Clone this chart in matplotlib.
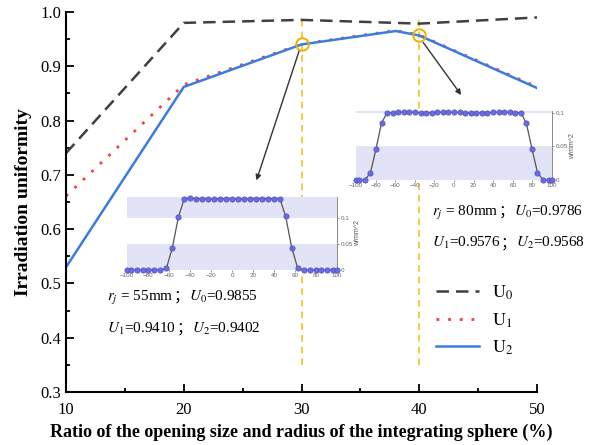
import numpy as np
import matplotlib.pyplot as plt
from matplotlib.offsetbox import TextArea, HPacker, VPacker, AnnotationBbox
from matplotlib.ticker import MultipleLocator

plt.rcParams['font.family'] = ['Liberation Serif', 'Noto Sans CJK SC']
plt.rcParams['mathtext.fontset'] = 'stix'

# uniformity vs opening ratio
ratio = [10, 20, 30, 38, 40, 50]
ratio_u0 = [10, 20, 30, 40, 50]
u0 = [0.740, 0.980, 0.9855, 0.9786, 0.990]
u1 = [0.661, 0.866, 0.9410, 0.966, 0.9576, 0.862]
u2 = [0.530, 0.862, 0.9402, 0.965, 0.9568, 0.860]
radius = [55, 80]          # r_j for the two marked cases (x = 30 and x = 40)

# irradiance profiles across the target plane (mm, W/mm^2)
pos = [-100, -96.6, -90.9, -85.2, -79.6, -73.9, -68.2, -62.5, -56.8, -51.1,
       -45.5, -39.8, -34.1, -28.4, -22.7, -17.0, -11.4, -5.7, 0.0, 5.7,
       11.4, 17.0, 22.7, 28.4, 34.1, 39.8, 45.5, 51.1, 56.8, 62.5,
       68.2, 73.9, 79.6, 85.2, 90.9, 96.6, 100]
prof_55 = [0, 0, 0, 0, 0, 0, 0, 0.003, 0.043, 0.101,
           0.137, 0.1375, 0.137, 0.1365, 0.136, 0.136, 0.1365, 0.137, 0.137, 0.1365,
           0.136, 0.1365, 0.137, 0.137, 0.137, 0.137, 0.137, 0.103, 0.043, 0.004,
           0, 0, 0, 0, 0, 0, 0]
prof_80 = [0, 0, 0, 0.011, 0.046, 0.085, 0.1, 0.1, 0.1005, 0.101,
           0.101, 0.1005, 0.1, 0.0995, 0.0995, 0.1005, 0.101, 0.101, 0.1005, 0.1005,
           0.1, 0.0995, 0.099, 0.0995, 0.1, 0.1005, 0.101, 0.1015, 0.1005, 0.1,
           0.1, 0.084, 0.046, 0.011, 0, 0, 0]

fig = plt.figure(figsize=(6, 4.45), dpi=100)
ax = fig.add_axes([0.11, 0.119, 0.785, 0.854])

ax.plot(ratio_u0, u0, color='#404040', lw=1.8, ls=(0, (5, 2.8)), label=r'$\mathrm{U_0}$')
ax.plot(ratio, u1, color='#ff3b3b', lw=2, ls=(0, (1, 3.2)), label=r'$\mathrm{U_1}$')
ax.plot(ratio, u2, color='#3a7de0', lw=1.8, label=r'$\mathrm{U_2}$')

# highlight the two cases shown in the insets
marked = [2, 4]
for i in marked:
    ax.axvline(ratio[i], ymin=0.072, ymax=0.985, color='#f5c020', lw=1.2, ls=(0, (4, 3)), zorder=1)
    ax.plot(ratio[i], u2[i], 'o', ms=9, mfc='none', mec='#f0b000', mew=1.4, zorder=5)

ax.annotate('', xy=(26.1, 0.685), xytext=(29.9, 0.935),
            arrowprops=dict(arrowstyle='-|>', color='#333333', lw=1, mutation_scale=8))
ax.annotate('', xy=(43.7, 0.843), xytext=(40.2, 0.948),
            arrowprops=dict(arrowstyle='-|>', color='#333333', lw=1, mutation_scale=8))

ax.set_xlim(10, 50)
ax.set_ylim(0.3, 1.0)
ax.xaxis.set_major_locator(MultipleLocator(10))
ax.xaxis.set_minor_locator(MultipleLocator(5))
ax.yaxis.set_major_locator(MultipleLocator(0.1))
ax.yaxis.set_minor_locator(MultipleLocator(0.05))
ax.yaxis.set_major_formatter(lambda v, p: f'{v:.1f}')
ax.tick_params(which='both', direction='in', labelsize=12, width=1.3)
ax.tick_params(which='major', length=6)
ax.tick_params(which='minor', length=3)
ax.tick_params(axis='x', pad=7)
for s in ['top', 'right']:
    ax.spines[s].set_visible(False)
for s in ['left', 'bottom']:
    ax.spines[s].set_linewidth(1.5)

ax.set_xlabel('Ratio of the opening size and radius of the integrating sphere (%)',
              fontsize=13, fontweight='bold', labelpad=4)
ax.set_ylabel('Irradiation uniformity', fontsize=14, fontweight='bold', labelpad=6)

ax.legend(loc='upper left', bbox_to_anchor=(0.785, 0.285), frameon=False, fontsize=13,
          handlelength=2.4, handletextpad=0.7, labelspacing=0.5, borderaxespad=0, borderpad=0)


def stats_box(r, a, b, c):
    tp = dict(fontsize=11, family='Liberation Serif')
    cp = dict(fontsize=11, family='Noto Sans CJK SC')
    line1 = HPacker(children=[TextArea(f'$r_j$ = {r}mm ', textprops=tp),
                              TextArea('；', textprops=cp),
                              TextArea(f'$U_0$={a:.4f}', textprops=tp)],
                    sep=0, pad=0, align='baseline')
    line2 = HPacker(children=[TextArea(f'$U_1$={b:.4f}', textprops=tp),
                              TextArea('；', textprops=cp),
                              TextArea(f'$U_2$={c:.4f}', textprops=tp)],
                    sep=0, pad=0, align='baseline')
    return VPacker(children=[line1, line2], sep=9, pad=0, align='left')


for k, i, xy in [(0, 2, (13.5, 0.447)), (1, 4, (41.1, 0.604))]:
    box = stats_box(radius[k], u0[ratio_u0.index(ratio[i])], u1[i], u2[i])
    ax.add_artist(AnnotationBbox(box, xy, xycoords='data', frameon=False,
                                 box_alignment=(0, 0.5)))


def profile_inset(rect, y, top):
    ins = fig.add_axes(rect)
    ins.set_facecolor('white')
    ins.axhspan(0, 0.05, color='#e3e3f7', lw=0, zorder=0)
    ins.axhspan(0.1, top, color='#e3e3f7', lw=0, zorder=0)
    ins.plot(pos, y, color='#555555', lw=0.9, marker='o', ms=3.8,
             mfc='#6b6be0', mec='#5050c0', mew=0.5, clip_on=False, zorder=3)
    ins.set_xlim(-100, 100)
    ins.set_ylim(0, top)
    ins.set_xticks(np.arange(-100, 101, 20))
    ins.set_yticks([0, 0.05, 0.1])
    ins.set_yticklabels(['0', '0.05', '0.1'])
    ins.yaxis.tick_right()
    ins.yaxis.set_label_position('right')
    ins.set_ylabel('w/mm^2', fontsize=5, family='Liberation Sans', color='#555555', labelpad=1)
    ins.tick_params(labelsize=4.5, length=1.5, width=0.5, pad=1, colors='#666666')
    for lab in ins.get_xticklabels() + ins.get_yticklabels():
        lab.set_family('Liberation Sans')
    for s in ['top', 'left', 'bottom']:
        ins.spines[s].set_visible(False)
    ins.spines['right'].set_color('#777777')
    ins.spines['right'].set_linewidth(0.6)
    return ins


profile_inset([0.2117, 0.3933, 0.35, 0.164], prof_55, 0.14)
profile_inset([0.5933, 0.5955, 0.3267, 0.155], prof_80, 0.1025)

fig.savefig('out.png', dpi=100)
